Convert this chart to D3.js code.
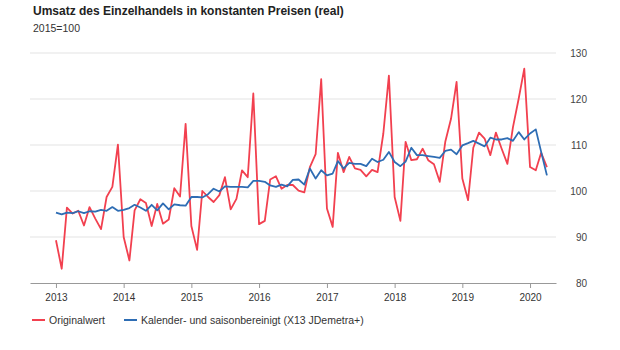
<!DOCTYPE html>
<html>
<head>
<meta charset="utf-8">
<script src="https://cdn.jsdelivr.net/npm/d3@7"></script>
<style>
    body { margin: 0; background: #fff; }
    svg { font-family: "Liberation Sans", Arial, sans-serif; }
    .title { font-size: 12px; font-weight: bold; fill: #222; }
    .subtitle { font-size: 10.5px; fill: #333; }
    .x.axis text { font-size: 10px; fill: #333; }
    .x.axis path, .x.axis line { stroke: #999; }
    .ylabel { font-size: 10px; fill: #444; }
    .legend { font-size: 10.5px; fill: #333; }
</style>
</head>
<body>
<svg width="620" height="350"></svg>
<script>
// **** Data ****
var startYear = 2013;
var yearTicks = [2013, 2014, 2015, 2016, 2017, 2018, 2019, 2020];
var yTicks = [80, 90, 100, 110, 120, 130];
var seriesNames = ['Originalwert', 'Kalender- und saisonbereinigt (X13 JDemetra+)'];

// monthly values Jan 2013 - Apr 2020
var original = [
    89.3, 83.1, 96.4, 95.1, 95.7, 92.5, 96.5, 94.0, 91.7, 98.7, 100.9, 110.1,
    90.0, 84.9, 95.8, 98.2, 97.4, 92.4, 97.2, 92.9, 93.8, 100.6, 98.8, 114.6,
    92.4, 87.2, 100.0, 98.7, 97.6, 99.1, 103.0, 96.0, 98.3, 104.5, 103.0, 121.2,
    92.8, 93.5, 102.5, 103.2, 100.5, 101.3, 101.3, 100.1, 99.7, 105.2, 108.0, 124.3,
    96.2, 92.2, 108.3, 104.1, 107.4, 104.9, 104.6, 103.2, 104.6, 104.1, 112.5, 125.1,
    98.7, 93.5, 110.7, 106.7, 106.9, 109.2, 106.7, 105.8, 102.0, 110.7, 115.7, 123.7,
    102.7, 98.0, 109.4, 112.7, 111.4, 107.8, 112.7, 109.2, 105.9, 113.9, 120.1, 126.6,
    105.2, 104.5, 108.3, 105.2
];
var adjusted = [
    95.3, 94.9, 95.3, 95.2, 95.6, 95.2, 95.6, 95.5, 95.9, 95.7, 96.5, 95.7,
    95.9, 96.3, 97.0, 96.4, 95.7, 97.0, 95.8, 97.3, 96.0, 97.1, 96.9, 96.8,
    98.7, 98.7, 98.6, 99.3, 100.5, 99.9, 101.0, 100.9, 100.9, 100.9, 100.8, 102.2,
    102.2, 102.0, 101.2, 100.9, 101.4, 101.0, 102.4, 102.5, 101.4, 104.9, 102.7, 104.5,
    103.4, 103.8, 106.5, 104.9, 106.1, 105.9, 105.9, 105.4, 107.0, 106.3, 106.8, 108.5,
    106.3, 105.4, 106.4, 109.4, 107.8, 107.8, 107.6, 107.4, 107.2, 108.7, 109.0, 108.0,
    109.9, 110.4, 110.9, 110.3, 109.7, 111.6, 111.2, 111.2, 111.5, 110.9, 112.8, 111.2,
    112.5, 113.4, 108.5, 103.4
];

var colors = ['#f2404f', '#2e6db4'];

// **** Scales ****
var svg = d3.select('svg');

function monthDate(i) {
    return new Date(startYear, i, 1);
}

var timeScale = d3.scaleTime()
    .domain([d3.timeDay.offset(new Date(2013, 0, 1), -140), d3.timeDay.offset(new Date(2020, 3, 1), 140 - 91)])
    .range([30, 556]);

var valueScale = d3.scaleLinear()
    .domain([80, 130]).range([283, 53]);

// **** Grid and y labels ****
svg.append('g').selectAll('line')
    .data(yTicks.slice(1))
    .enter()
    .append('line')
    .attr('x1', 30).attr('x2', 556)
    .attr('y1', function(d) { return valueScale(d); })
    .attr('y2', function(d) { return valueScale(d); })
    .attr('stroke', '#e3e3e3')
    .attr('stroke-width', 1);

svg.append('g').selectAll('text')
    .data(yTicks)
    .enter()
    .append('text')
    .attr('class', 'ylabel')
    .attr('x', 587)
    .attr('y', function(d) { return valueScale(d); })
    .attr('dy', '0.35em')
    .attr('text-anchor', 'end')
    .text(function(d) { return d; });

// **** X axis ****
svg.append('g').attr('class', 'x axis')
    .attr('transform', 'translate(0,283)')
    .call(d3.axisBottom(timeScale)
        .tickValues(yearTicks.map(function(y) { return new Date(y, 0, 1); }))
        .tickFormat(d3.timeFormat('%Y'))
        .tickSize(5)
        .tickSizeOuter(0)
        .tickPadding(6));

// **** Lines ****
var line = d3.line()
    .x(function(d, i) { return timeScale(monthDate(i)); })
    .y(function(d) { return valueScale(d); });

[original, adjusted].forEach(function(series, k) {
    svg.append('path')
        .datum(series)
        .attr('fill', 'none')
        .attr('stroke', colors[k])
        .attr('stroke-width', 1.8)
        .attr('stroke-linejoin', 'round')
        .attr('d', line);
});

// **** Titles ****
svg.append('text')
    .attr('class', 'title')
    .attr('x', 33).attr('y', 15)
    .text('Umsatz des Einzelhandels in konstanten Preisen (real)');

svg.append('text')
    .attr('class', 'subtitle')
    .attr('x', 33).attr('y', 32)
    .text('2015=100');

// **** Legend ****
var legendX = [32, 124];
seriesNames.forEach(function(name, k) {
    svg.append('line')
        .attr('x1', legendX[k]).attr('x2', legendX[k] + 13)
        .attr('y1', 320).attr('y2', 320)
        .attr('stroke', colors[k])
        .attr('stroke-width', 2);
    svg.append('text')
        .attr('class', 'legend')
        .attr('x', legendX[k] + 17).attr('y', 324)
        .text(name);
});
</script>
</body>
</html>
